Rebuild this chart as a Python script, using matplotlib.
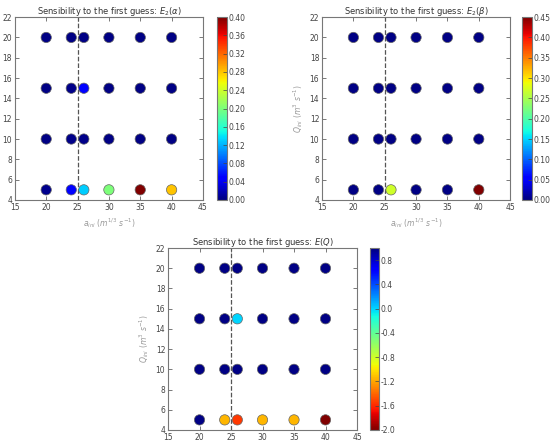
import numpy as np
import matplotlib; matplotlib.use('Agg')
import matplotlib.pyplot as plt
from matplotlib.ticker import FormatStrFormatter

# grid of first guesses
a_ini = [20, 24, 26, 30, 35, 40]
q_ini = [5, 10, 15, 20]

# rows = q_ini (5,10,15,20), cols = a_ini
E2_alpha = [[0.005, 0.045, 0.13, 0.20, 0.40, 0.28],
            [0.003, 0.004, 0.004, 0.003, 0.003, 0.003],
            [0.003, 0.004, 0.05, 0.003, 0.003, 0.003],
            [0.003, 0.003, 0.003, 0.003, 0.003, 0.003]]
E2_beta = [[0.003, 0.003, 0.27, 0.003, 0.003, 0.45],
           [0.003, 0.003, 0.003, 0.003, 0.003, 0.003],
           [0.003, 0.003, 0.003, 0.003, 0.003, 0.003],
           [0.003, 0.003, 0.003, 0.003, 0.003, 0.003]]
E_Q = [[0.98, -1.15, -1.55, -1.15, -1.15, -2.0],
       [0.98, 0.98, 0.98, 0.98, 0.98, 0.98],
       [0.98, 0.98, 0.0, 0.98, 0.98, 0.98],
       [0.98, 0.98, 0.98, 0.98, 0.98, 0.98]]

cticks_alpha = [0.00, 0.04, 0.08, 0.12, 0.16, 0.20, 0.24, 0.28, 0.32, 0.36, 0.40]
cticks_beta = [0.00, 0.05, 0.10, 0.15, 0.20, 0.25, 0.30, 0.35, 0.40, 0.45]
cticks_q = [-2.0, -1.6, -1.2, -0.8, -0.4, 0.0, 0.4, 0.8]

panels = [
    (E2_alpha, r'Sensibility to the first guess: $E_2(\alpha)$', 'jet', 0.0, 0.40,
     cticks_alpha, '%.2f', [0.027, 0.5516, 0.342, 0.410], [0.3945, 0.5516, 0.018, 0.410]),
    (E2_beta, r'Sensibility to the first guess: $E_2(\beta)$', 'jet', 0.0, 0.45,
     cticks_beta, '%.2f', [0.5855, 0.5516, 0.342, 0.410], [0.949, 0.5516, 0.018, 0.410]),
    (E_Q, r'Sensibility to the first guess: $E(Q)$', 'jet_r', -2.0, 1.0,
     cticks_q, '%.1f', [0.3055, 0.0359, 0.3436, 0.408], [0.6727, 0.0359, 0.0164, 0.408]),
]

fig = plt.figure(figsize=(5.5, 4.46), dpi=100)
AX_C = '#777777'
TXT_C = '#444444'

for vals, title, cmap, vmin, vmax, cticks, cfmt, apos, cpos in panels:
    ax = fig.add_axes(apos)
    X, Y = np.meshgrid(a_ini, q_ini)
    sc = ax.scatter(X.ravel(), Y.ravel(), c=np.array(vals).ravel(), cmap=cmap,
                    vmin=vmin, vmax=vmax, s=55, edgecolors='#666666', linewidths=0.5, zorder=3)
    ax.axvline(25, color='#555555', ls='--', lw=0.9, zorder=2)
    ax.set_xlim(15, 45); ax.set_ylim(4, 22)
    ax.set_xticks(range(15, 46, 5)); ax.set_yticks(range(4, 23, 2))
    ax.tick_params(direction='in', top=True, right=True, labelsize=5.5, colors=TXT_C,
                   length=3, width=0.5, pad=2)
    for s in ax.spines.values():
        s.set_color(AX_C); s.set_linewidth(0.8)
    ax.set_title(title, fontsize=6, color='#333333', pad=2)
    ax.set_xlabel(r'$a_{ini}\ (m^{1/3}\ s^{-1})$', fontsize=5.5, color='#999999', labelpad=3)
    ax.set_ylabel(r'$Q_{ini}\ (m^3\ s^{-1})$', fontsize=5.5, color='#999999', labelpad=3)

    cax = fig.add_axes(cpos)
    cb = fig.colorbar(sc, cax=cax, ticks=cticks)
    cb.ax.yaxis.set_major_formatter(FormatStrFormatter(cfmt))
    cb.ax.tick_params(direction='in', labelsize=5.5, colors=TXT_C, length=3, width=0.5, pad=1)
    cb.outline.set_edgecolor(AX_C); cb.outline.set_linewidth(0.8)

fig.savefig('out.png', dpi=100)
